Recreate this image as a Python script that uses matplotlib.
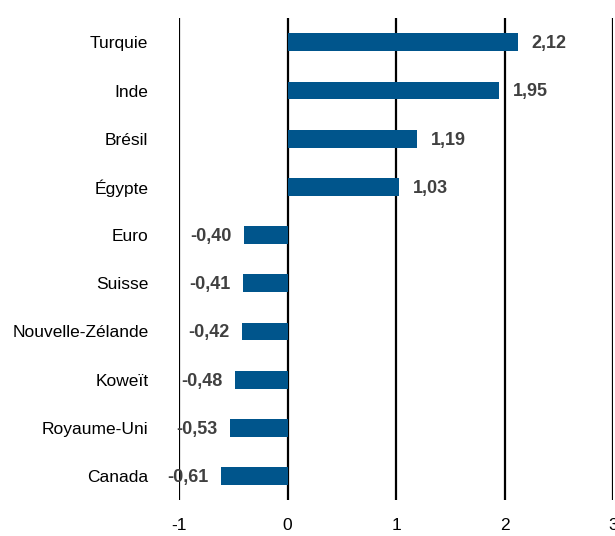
import matplotlib
matplotlib.use('Agg')
import matplotlib.pyplot as plt

plt.rcParams['font.family'] = ['Liberation Sans', 'DejaVu Sans']

pays = ['Turquie', 'Inde', 'Brésil', 'Égypte', 'Euro', 'Suisse',
        'Nouvelle-Zélande', 'Koweït', 'Royaume-Uni', 'Canada']
valeurs = [2.12, 1.95, 1.19, 1.03, -0.40, -0.41, -0.42, -0.48, -0.53, -0.61]
xticks = [-1, 0, 1, 2, 3]

fig = plt.figure(figsize=(6.15, 5.36), dpi=100)
ax = fig.add_axes([0.291, 0.067, 0.706, 0.899])

pos = list(range(len(pays)))
ax.barh(pos, valeurs, height=0.37, color='#00558C', zorder=3)

for x in xticks:
    ax.axvline(x, color='black', lw=1.6, zorder=2)

for p, v in zip(pos, valeurs):
    txt = '{:.2f}'.format(v).replace('.', ',')
    if v >= 0:
        ax.annotate(txt, (v, p), xytext=(10, -1), textcoords='offset points',
                    ha='left', va='center', fontsize=13, fontweight='bold',
                    color='#404040', zorder=4)
    else:
        ax.annotate(txt, (v, p), xytext=(-9, -1), textcoords='offset points',
                    ha='right', va='center', fontsize=13, fontweight='bold',
                    color='#404040', zorder=4)

ax.set_xlim(-1, 3)
ax.set_ylim(9.5, -0.5)
ax.set_xticks(xticks)
ax.set_xticklabels([str(t) for t in xticks])
ax.set_yticks(pos)
ax.set_yticklabels(pays)
ax.tick_params(axis='both', length=0, labelsize=12.5, colors='black')
ax.tick_params(axis='y', pad=22)
ax.tick_params(axis='x', pad=13)
for s in ax.spines.values():
    s.set_visible(False)

fig.savefig('out.png', dpi=100)
